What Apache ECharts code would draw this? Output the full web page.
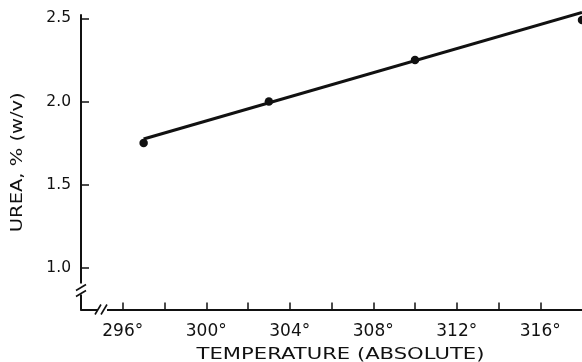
<!DOCTYPE html>
<html>
<head>
<meta charset="utf-8">
<script src="https://cdn.jsdelivr.net/npm/echarts@6/dist/echarts.min.js"></script>
<style>
  html, body { margin: 0; padding: 0; background: #ffffff; }
  #chart { width: 582px; height: 362px; }
</style>
</head>
<body>
<div id="chart"></div>
<script>
// Measured urea solubility against absolute temperature
const temperatures = [297, 303, 310, 318];
const ureaPercent = [1.75, 2.00, 2.25, 2.49];

// End points of the fitted straight line
const fitTemperatures = [297, 318];
const fitUreaPercent = [1.775, 2.535];

// Axis ticks, labels and titles
const xTickValues = [296, 298, 300, 302, 304, 306, 308, 310, 312, 314, 316];
const xLabelValues = [296, 300, 304, 308, 312, 316];
const yTickValues = [1.0, 1.5, 2.0, 2.5];
const xTitle = 'TEMPERATURE (ABSOLUTE)';
const yTitle = 'UREA, % (w/v)';

const X_MIN = 294, X_MAX = 318;
const Y_MIN = 0.75, Y_MAX = 2.52;
const INK = '#111111';
const FONT = '"DejaVu Sans", "Liberation Sans", Arial, sans-serif';

const chart = echarts.init(document.getElementById('chart'), null, { renderer: 'canvas' });

const points = temperatures.map((t, i) => [t, ureaPercent[i]]);
const fitLine = fitTemperatures.map((t, i) => [t, fitUreaPercent[i]]);

chart.setOption({
  animation: false,
  backgroundColor: '#ffffff',
  grid: { left: 81, right: 0, top: 15, bottom: 52.5, containLabel: false },
  xAxis: {
    type: 'value',
    min: X_MIN,
    max: X_MAX,
    axisLine: { show: true, onZero: false, lineStyle: { color: INK, width: 2 } },
    axisTick: { show: true, inside: true, length: 7, customValues: xTickValues, lineStyle: { color: INK, width: 1.5 } },
    axisLabel: {
      show: true,
      customValues: xLabelValues,
      margin: 14,
      color: INK,
      fontFamily: FONT,
      fontSize: 17,
      formatter: v => v + '°'
    },
    splitLine: { show: false }
  },
  yAxis: {
    type: 'value',
    min: Y_MIN,
    max: Y_MAX,
    axisLine: { show: true, onZero: false, lineStyle: { color: INK, width: 2 } },
    axisTick: { show: true, inside: true, length: 8, customValues: yTickValues, lineStyle: { color: INK, width: 1.5 } },
    axisLabel: {
      show: true,
      customValues: yTickValues,
      margin: 10,
      color: INK,
      fontFamily: FONT,
      fontSize: 15.5,
      formatter: v => v.toFixed(1)
    },
    splitLine: { show: false }
  },
  series: [
    {
      name: 'fit',
      type: 'line',
      data: fitLine,
      clip: false,
      showSymbol: false,
      symbol: 'none',
      lineStyle: { color: INK, width: 3 },
      z: 2
    },
    {
      name: 'measured',
      type: 'scatter',
      data: points,
      clip: false,
      symbol: 'circle',
      symbolSize: 8.5,
      itemStyle: { color: INK, opacity: 1 },
      z: 3
    }
  ]
});

// Axis titles (widely set lettering) and the "//" break marks near the origin
function drawDecorations() {
  const o = chart.convertToPixel({ gridIndex: 0 }, [X_MIN, Y_MIN]);
  const top = chart.convertToPixel({ gridIndex: 0 }, [X_MAX, Y_MAX]);
  const ox = o[0], oy = o[1];
  const midX = (ox + top[0]) / 2;
  const midY = (oy + top[1]) / 2;
  const slash = (x1, y1, x2, y2) => ({
    type: 'line',
    z: 100,
    shape: { x1, y1, x2, y2 },
    style: { stroke: INK, lineWidth: 1.6 }
  });
  chart.setOption({
    graphic: [
      {
        type: 'text', z: 50,
        x: midX + 9, y: oy + 45,
        scaleX: 1.32,
        style: { text: xTitle, fill: INK, font: '16px ' + FONT, align: 'center', verticalAlign: 'middle' }
      },
      {
        type: 'text', z: 50,
        x: 18, y: midY,
        rotation: Math.PI / 2,
        scaleX: 1.3,
        style: { text: yTitle, fill: INK, font: '15px ' + FONT, align: 'center', verticalAlign: 'middle' }
      },
      { type: 'rect', z: 99, shape: { x: ox - 4, y: oy - 26, width: 8, height: 11 }, style: { fill: '#ffffff' } },
      slash(ox - 5, oy - 19, ox + 5, oy - 25),
      slash(ox - 5, oy - 13, ox + 5, oy - 19),
      { type: 'rect', z: 99, shape: { x: ox + 17, y: oy - 3, width: 9, height: 6 }, style: { fill: '#ffffff' } },
      slash(ox + 14, oy + 5, ox + 20, oy - 5),
      slash(ox + 20, oy + 5, ox + 26, oy - 5)
    ]
  });
}
drawDecorations();
</script>
</body>
</html>
